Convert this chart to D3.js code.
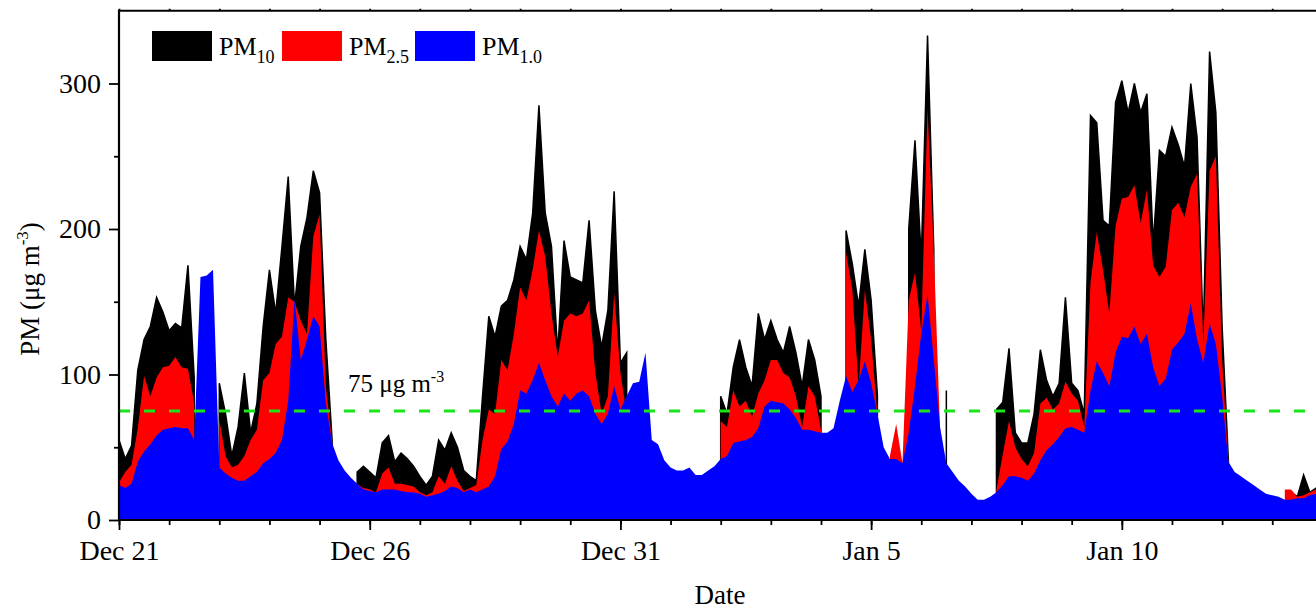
<!DOCTYPE html>
<html>
<head>
<meta charset="utf-8">
<script src="https://cdn.jsdelivr.net/npm/d3@7"></script>
<style>
body { margin: 0; background: #fff; overflow: hidden; }
svg { display: block; font-family: "Liberation Serif", "Times New Roman", serif; }
</style>
</head>
<body>
<script>
// 3-hourly readings starting Dec 21 00:00, one row per day (8 values)
const startDate = new Date(2015, 11, 21);
const endDate = new Date(2016, 0, 14);
const stepHours = 3;

const pm10 = [
  55, 42, 51, 103, 124, 133, 153, 143,
  130, 135, 132, 175, 98, null, null, null,
  94, 73, 44, 64, 101, 60, 80, 133,
  172, 142, 188, 236, 147, 188, 208, 240,
  225, 124, 55, null, null, null, 33, 37,
  33, 29, 53, 58, 40, 46, 42, 37,
  30, 24, 30, 55, 48, 60, 50, 34,
  30, 27, 85, 140, 126, 147, 151, 165,
  188, 179, 211, 285, 211, 188, 115, 192,
  167, 165, 163, 206, 144, 119, 144, 226,
  108, 115, null, null, null, null, null, null,
  null, null, null, null, null, null, null, null,
  85, 73, 105, 124, 105, 92, 142, 124,
  137, 124, 115, 133, 115, 92, 124, 110,
  85, null, null, null, 199, 176, 147, 186,
  151, 86, null, null, null, null, 200, 261,
  180, 333, 185, null, 89, null, null, null,
  null, null, null, null, 76, 81, 118, 60,
  53, 53, 73, 117, 96, 85, 94, 153,
  94, 89, 73, 278, 273, 206, 202, 287,
  302, 280, 300, 280, 293, 190, 254, 250,
  270, 258, 243, 300, 263, 126, 322, 280,
  133, 41, null, null, null, null, null, null,
  null, null, null, 19, 16, 31, 19, 22
];

const pm25 = [
  26, 33, 38, 63, 99, 85, 98, 105,
  106, 112, 105, 104, 80, null, null, null,
  69, 44, 36, 38, 44, 55, 62, 96,
  101, 121, 126, 153, 150, 137, 128, 195,
  210, 92, 54, null, null, null, 25, 22,
  21, 19, 32, 36, 25, 25, 24, 23,
  19, 17, 19, 30, 25, 37, 27, 20,
  22, 24, 55, 76, 73, 110, 103, 128,
  160, 151, 172, 199, 181, 142, 112, 137,
  142, 140, 142, 151, 101, 73, 85, 156,
  101, 73, null, null, null, null, null, null,
  null, null, null, null, null, null, null, null,
  68, 64, 89, 78, 82, 71, 87, 96,
  110, 110, 101, 98, 85, 64, 92, 85,
  62, null, null, null, 184, 158, 92, 158,
  124, 73, null, 44, 66, 39, 151, 170,
  130, 283, 185, 62, null, null, null, null,
  null, null, null, null, 21, 45, 68, 50,
  42, 37, 46, 80, 84, 76, 80, 95,
  87, 82, 64, 163, 198, 172, 142, 202,
  221, 222, 230, 204, 227, 175, 167, 174,
  213, 218, 208, 229, 238, 121, 240, 250,
  110, 40, null, null, null, null, null, null,
  null, null, 21, 21, 16, 17, 19, 21
];

const pm1 = [
  24, 22, 25, 40, 47, 52, 58, 62,
  63, 64, 63, 63, 55, 167, 168, 172,
  36, 32, 29, 27, 27, 30, 33, 39,
  42, 46, 55, 82, 152, 110, 124, 140,
  133, 80, 53, 41, 34, 29, 25, 21,
  20, 19, 21, 21, 21, 20, 19, 19,
  18, 16, 17, 18, 20, 23, 22, 19,
  21, 19, 21, 23, 30, 49, 54, 66,
  89, 87, 96, 108, 96, 85, 78, 87,
  82, 87, 89, 85, 73, 66, 73, 92,
  76, 85, 94, 95, 115, 55, 52, 41,
  36, 34, 34, 36, 31, 31, 34, 37,
  42, 44, 53, 54, 55, 57, 63, 78,
  82, 81, 80, 76, 70, 62, 62, 61,
  60, 60, 63, 82, 99, 88, 96, 109,
  94, 73, 50, 42, 42, 39, 60, 92,
  128, 155, 110, 64, 39, 33, 27, 23,
  18, 14, 14, 16, 19, 24, 30, 30,
  29, 27, 32, 41, 48, 52, 57, 63,
  64, 62, 60, 89, 109, 101, 92, 115,
  126, 125, 133, 121, 128, 105, 92, 97,
  117, 122, 128, 149, 124, 108, 135, 121,
  85, 40, 33, 30, 27, 24, 21, 18,
  17, 16, 14, 14, 15, 15, 17, 18
];

const majorTickDays = [0, 5, 10, 15, 20];
const tickLabels = ["Dec 21", "Dec 26", "Dec 31", "Jan 5", "Jan 10"];
const yMajor = [0, 100, 200, 300];
const yMinor = [50, 150, 250];
const limitValue = 75;

const seriesNames = ["10", "2.5", "1.0"];
const seriesColors = ["#000000", "#ff0000", "#0000ff"];

const W = 1316, H = 609;
const left = 119, bottom = 520;

const svg = d3.select("body").append("svg")
    .attr("width", W)
    .attr("height", H);

const x = d3.scaleTime()
    .domain([startDate, endDate])
    .range([left, 1322.4]);
const y = d3.scaleLinear()
    .domain([0, 350])
    .range([bottom, bottom - 350 * 1.455]);

const times = pm10.map((d, i) => d3.timeHour.offset(startDate, i * stepHours));

const area = d3.area()
    .defined(d => d.v != null)
    .x(d => x(d.t))
    .y0(y(0))
    .y1(d => y(d.v));

[pm10, pm25, pm1].forEach(function(vals, i) {
    const pts = vals.map((v, j) => ({t: times[j], v: v}));
    svg.append("path")
        .attr("d", area(pts))
        .attr("fill", seriesColors[i])
        .attr("stroke", i == 0 ? seriesColors[i] : "none")
        .attr("stroke-width", 1.5);
});

// 75 ug m-3 limit line
svg.append("line")
    .attr("x1", left).attr("x2", W)
    .attr("y1", y(limitValue)).attr("y2", y(limitValue))
    .attr("stroke", "#19e619")
    .attr("stroke-width", 3)
    .attr("stroke-dasharray", "11,14");

const ann = svg.append("text")
    .attr("x", 348).attr("y", 392)
    .attr("font-size", 25);
ann.append("tspan").text("75 \u03bcg m");
ann.append("tspan").attr("font-size", 16).attr("dy", -10).text("-3");

// axes
const dayTicks = d3.timeDay.range(startDate, d3.timeDay.offset(endDate, 1));
const majorDates = majorTickDays.map(d => d3.timeDay.offset(startDate, d));

function styleAxis(g) {
    g.select(".domain").remove();
    g.selectAll(".tick line").attr("stroke", "#000").attr("stroke-width", 1.8);
    g.selectAll(".tick text")
        .attr("fill", "#000")
        .attr("font-size", 28)
        .attr("font-family", "Liberation Serif, Times New Roman, serif");
}

svg.append("g")
    .attr("transform", "translate(0," + bottom + ")")
    .call(d3.axisBottom(x).tickValues(dayTicks).tickSize(5).tickFormat(""))
    .call(styleAxis);

svg.append("g")
    .attr("transform", "translate(0," + bottom + ")")
    .call(d3.axisBottom(x).tickValues(majorDates).tickSize(10).tickPadding(10)
        .tickFormat((d, i) => tickLabels[i]))
    .call(styleAxis);

svg.append("g")
    .attr("transform", "translate(0," + y(350) + ")")
    .call(d3.axisTop(x).tickValues(dayTicks).tickSize(2).tickFormat(""))
    .call(styleAxis);

svg.append("g")
    .attr("transform", "translate(" + left + ",0)")
    .call(d3.axisLeft(y).tickValues(yMinor).tickSize(5).tickFormat(""))
    .call(styleAxis);

svg.append("g")
    .attr("transform", "translate(" + left + ",0)")
    .call(d3.axisLeft(y).tickValues(yMajor).tickSize(10).tickPadding(8))
    .call(styleAxis);

// frame lines
svg.append("line")
    .attr("x1", left - 1).attr("x2", W)
    .attr("y1", bottom).attr("y2", bottom)
    .attr("stroke", "#000").attr("stroke-width", 2.2);
svg.append("line")
    .attr("x1", left - 1).attr("x2", W)
    .attr("y1", y(350)).attr("y2", y(350))
    .attr("stroke", "#000").attr("stroke-width", 2.2);
svg.append("line")
    .attr("x1", left).attr("x2", left)
    .attr("y1", y(350) - 1).attr("y2", bottom + 1)
    .attr("stroke", "#000").attr("stroke-width", 2.2);

// axis titles
svg.append("text")
    .attr("x", 720).attr("y", 604)
    .attr("text-anchor", "middle")
    .attr("font-size", 27)
    .text("Date");

const yLab = svg.append("text")
    .attr("transform", "translate(39,289) rotate(-90)")
    .attr("text-anchor", "middle")
    .attr("font-size", 27);
yLab.append("tspan").text("PM (\u03bcg m");
yLab.append("tspan").attr("font-size", 17).attr("dy", -11).text("-3");
yLab.append("tspan").attr("dy", 11).text(")");

// legend
const legendX = [152, 282, 415];
seriesNames.forEach(function(name, i) {
    svg.append("rect")
        .attr("x", legendX[i]).attr("y", 31)
        .attr("width", 60).attr("height", 30)
        .attr("fill", seriesColors[i]);
    const t = svg.append("text")
        .attr("x", legendX[i] + 67).attr("y", 55)
        .attr("font-size", 26);
    t.append("tspan").text("PM");
    t.append("tspan").attr("font-size", 18).attr("dy", 8).text(name);
});
</script>
</body>
</html>
